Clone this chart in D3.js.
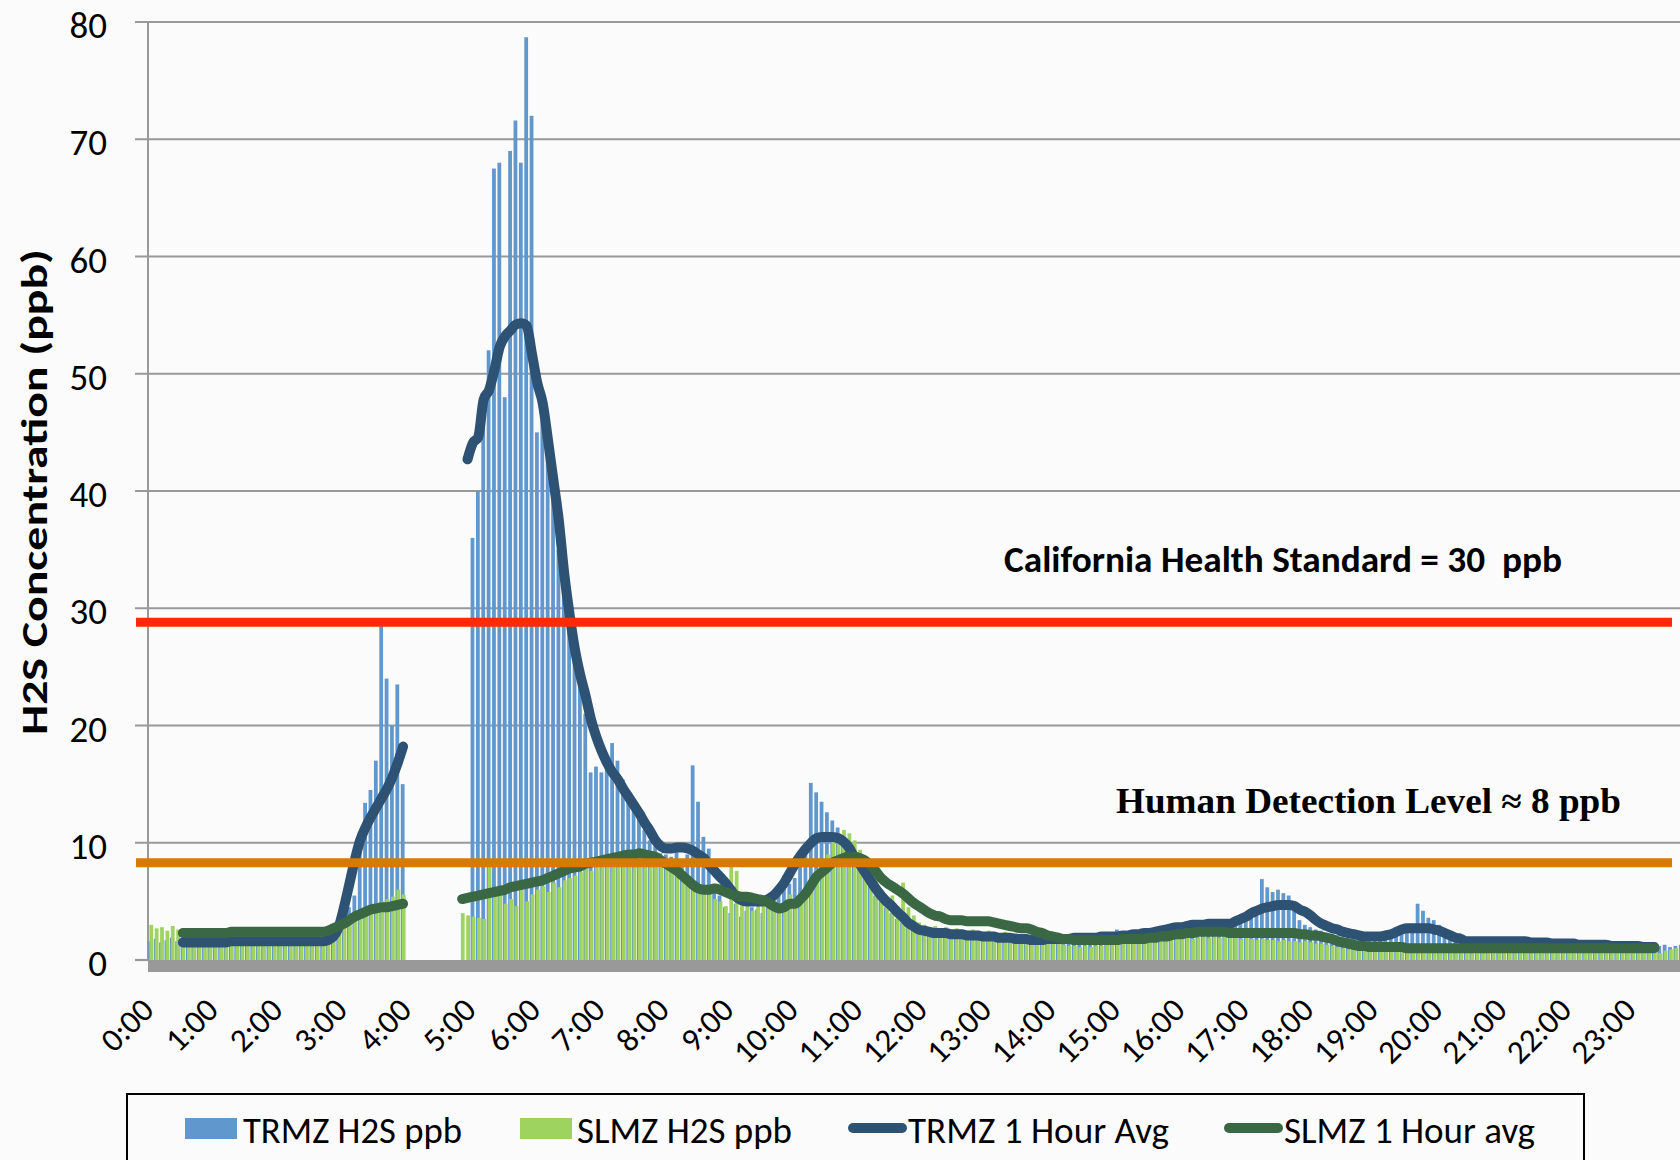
<!DOCTYPE html>
<html>
<head>
<meta charset="utf-8">
<script src="https://cdn.jsdelivr.net/npm/d3@7/dist/d3.min.js"></script>
<style>
  html, body { margin: 0; padding: 0; background: #fbfbfb; }
  svg { display: block; font-family: Carlito, Lato, sans-serif; }
</style>
</head>
<body>
<svg width="1680" height="1160"></svg>
<script>
// hour labels shown on the category axis (one every 12 five-minute readings)
const hourLabels = ['0:00','1:00','2:00','3:00','4:00','5:00','6:00','7:00','8:00','9:00','10:00','11:00',
  '12:00','13:00','14:00','15:00','16:00','17:00','18:00','19:00','20:00','21:00','22:00','23:00']
const yTicks = [0, 10, 20, 30, 40, 50, 60, 70, 80]

// 5-minute readings, one row per hour
const trmzBars = [
  1.6,1.8,1.5,1.7,1.9,1.6,1.5,1.7,1.6,1.8,1.5,1.6,
  1.7,1.5,1.6,1.8,1.6,1.5,1.7,1.6,1.9,1.6,1.5,1.7,
  1.6,1.8,1.6,1.5,1.7,1.6,1.8,1.7,1.9,2.0,2.3,2.5,
  2.8,4.5,5.5,9.5,13.4,14.5,17.0,28.5,24.0,20.0,23.5,15.0,
  null,null,null,null,null,null,null,null,null,null,null,null,
  36,40,48,52,67.5,68,48,69,71.6,68,78.7,72,
  45,47,46,42,35,32.4,28.4,27.6,23.9,21,16,16.5,
  16,17.3,18.5,17,15.4,14.2,13.1,12.2,11.1,10.2,9.7,9.1,
  9.0,8.8,9.2,8.6,9.0,16.6,13.5,10.5,9.5,6.5,5.5,4.5,
  4.0,4.8,3.7,4.2,4.5,4.3,4.0,4.5,5.5,6.0,7.2,6.5,
  7.0,8.0,9.4,15.1,14.3,13.5,12.6,11.9,11.3,10.5,9.8,9.0,
  8.5,7.8,6.5,5.5,5.0,4.5,4.0,3.5,3.2,2.8,2.6,2.4,
  2.3,2.2,2.0,2.1,1.9,2.0,1.8,1.9,1.8,1.7,1.8,1.7,
  1.7,1.6,1.8,1.7,1.6,1.7,1.6,1.8,1.7,1.6,1.7,1.7,
  2.4,1.8,1.7,1.6,1.5,1.6,1.5,1.6,1.7,1.5,1.6,1.8,
  2.6,1.8,1.9,2.0,2.0,2.1,2.2,2.3,2.4,2.5,2.6,2.7,
  2.8,2.9,3.0,3.1,3.4,3.0,3.2,3.1,3.3,3.0,3.2,3.3,
  3.5,3.8,4.2,6.9,6.2,5.8,6.0,5.7,5.5,4.5,3.4,3.0,
  2.8,2.6,2.5,2.3,2.2,2.1,2.0,2.7,2.0,1.9,1.8,1.8,
  1.7,1.8,1.8,1.9,2.0,2.2,2.6,3.0,4.8,4.2,3.6,3.4,
  3.0,2.4,1.8,1.5,1.4,1.3,1.3,1.2,1.3,1.2,1.3,1.2,
  1.2,1.3,1.2,1.1,1.2,1.1,1.2,1.1,1.1,1.2,1.1,1.0,
  1.1,1.0,1.1,1.0,1.0,1.1,1.0,1.0,1.1,1.0,1.0,1.0,
  1.0,1.0,1.1,1.0,1.0,1.2,1.3,1.1,1.2,1.3,1.2,1.1
]

const slmzBars = [
  3.0,2.7,2.8,2.5,2.9,2.6,2.4,2.7,2.5,2.3,2.6,2.4,
  2.5,2.3,2.4,2.6,2.3,2.4,2.2,2.5,2.8,2.4,2.3,2.5,
  2.4,2.3,2.5,2.2,2.4,2.3,2.5,2.4,2.3,2.6,2.8,2.7,
  3.0,3.4,3.8,4.2,4.4,4.6,4.8,5.0,5.2,5.4,6.0,5.6,
  null,null,null,null,null,null,null,null,null,null,4.0,3.8,
  3.7,3.6,3.5,8.2,5.5,6.0,4.8,5.2,4.6,6.2,5.0,5.6,
  6.0,6.3,5.8,6.6,6.2,6.8,7.0,7.2,7.5,7.8,7.6,8.0,
  8.2,8.4,8.6,8.3,8.5,8.7,8.4,8.8,8.6,8.8,8.5,8.3,
  8.6,8.0,7.5,7.0,6.5,6.2,6.4,6.0,5.6,5.2,5.0,4.6,
  8.0,7.6,5.5,4.6,4.2,5.0,4.6,4.4,5.2,4.5,4.3,5.6,
  5.0,5.5,6.2,7.0,7.7,7.4,9.0,10.5,10.2,11.1,10.8,10.2,
  9.4,8.8,7.7,7.0,6.0,5.2,5.5,4.6,6.6,4.5,3.8,3.2,
  3.0,2.8,2.9,2.7,2.8,2.6,2.7,2.6,2.5,2.6,2.5,2.4,
  2.5,2.4,2.3,2.4,2.2,2.3,2.1,2.2,2.0,1.9,1.8,1.7,
  1.6,1.4,1.3,1.2,1.2,1.1,1.2,1.1,1.2,1.2,1.3,1.3,
  1.4,1.4,1.5,1.5,1.6,1.6,1.7,1.6,1.7,1.8,1.7,1.8,
  1.8,1.9,1.8,1.9,2.0,1.9,2.0,1.9,2.0,1.9,2.0,1.8,
  1.9,1.8,1.7,1.8,1.7,1.7,1.6,1.7,1.6,1.6,1.5,1.6,
  1.5,1.4,1.4,1.3,1.2,1.1,1.0,0.9,0.9,0.9,0.8,0.8,
  0.8,0.8,0.8,0.7,0.8,0.7,0.7,0.8,0.7,0.7,0.7,0.7,
  0.7,0.6,0.7,0.7,0.6,0.7,0.6,0.7,0.6,0.6,0.7,0.6,
  0.6,0.7,0.6,0.6,0.7,0.6,0.6,0.6,0.7,0.6,0.6,0.6,
  0.6,0.6,0.7,0.6,0.6,0.6,0.7,0.6,0.6,0.6,0.6,0.7,
  0.6,0.6,0.6,0.7,0.6,0.6,0.8,0.9,1.0,0.9,1.0,0.9
]

const trmzAvg = [
  null,null,null,null,null,null,1.5,1.5,1.5,1.5,1.5,1.5,
  1.5,1.5,1.5,1.6,1.6,1.6,1.6,1.6,1.6,1.6,1.6,1.6,
  1.6,1.6,1.6,1.6,1.6,1.6,1.6,1.6,1.6,1.7,2.0,2.8,
  4.5,6.5,8.5,10.2,11.3,12.2,13.0,13.8,14.6,15.6,16.8,18.2,
  null,null,null,null,null,null,null,null,null,null,null,42.7,
  44.1,44.6,47.8,48.6,50.3,52.3,53.2,53.7,54.2,54.3,54.1,51.7,
  49.2,47.5,44.3,40.9,37.5,33.0,29.5,26.5,24.3,22.5,20.5,19.0,
  17.8,16.8,16.0,15.4,14.6,13.9,13.2,12.5,11.7,11.0,10.2,9.7,
  9.5,9.5,9.6,9.6,9.5,9.3,9.0,8.7,8.1,7.6,7.1,6.6,
  6.0,5.4,5.1,5.0,5.0,5.0,5.0,5.2,5.5,6.0,6.6,7.4,
  8.2,8.9,9.5,10.0,10.4,10.5,10.5,10.5,10.4,10.1,9.6,8.8,
  8.2,7.5,6.8,6.1,5.5,5.0,4.6,4.1,3.7,3.2,2.9,2.6,
  2.5,2.4,2.3,2.3,2.3,2.2,2.2,2.2,2.1,2.1,2.1,2.0,
  2.0,2.0,1.9,1.9,1.9,1.8,1.8,1.8,1.7,1.7,1.7,1.8,
  1.8,1.8,1.8,1.8,1.9,1.9,1.9,1.9,1.9,2.0,2.0,2.0,
  2.0,2.1,2.1,2.2,2.2,2.3,2.3,2.4,2.5,2.6,2.7,2.8,
  2.8,2.9,3.0,3.0,3.0,3.1,3.1,3.1,3.1,3.1,3.3,3.5,
  3.7,4.0,4.2,4.4,4.5,4.6,4.7,4.7,4.7,4.6,4.3,4.1,
  3.8,3.4,3.1,2.9,2.7,2.6,2.4,2.3,2.2,2.1,2.0,2.0,
  2.0,2.0,2.1,2.2,2.4,2.6,2.7,2.7,2.7,2.7,2.7,2.6,
  2.5,2.3,2.1,1.9,1.8,1.6,1.6,1.6,1.6,1.6,1.6,1.6,
  1.6,1.6,1.6,1.6,1.6,1.5,1.5,1.5,1.5,1.4,1.4,1.4,
  1.4,1.4,1.3,1.3,1.3,1.3,1.3,1.3,1.2,1.2,1.2,1.2,
  1.2,1.2,1.1,1.1,1.1,null,null,null,null,null,null,null
]

const slmzAvg = [
  null,null,null,null,null,null,2.3,2.3,2.3,2.3,2.3,2.3,
  2.3,2.3,2.3,2.4,2.4,2.4,2.4,2.4,2.4,2.4,2.4,2.4,
  2.4,2.4,2.4,2.4,2.4,2.4,2.4,2.4,2.4,2.5,2.7,2.9,
  3.1,3.4,3.7,3.9,4.1,4.3,4.4,4.5,4.5,4.6,4.7,4.8,
  null,null,null,null,null,null,null,null,null,null,5.2,5.3,
  5.4,5.5,5.6,5.7,5.8,5.9,6.0,6.2,6.3,6.4,6.5,6.6,
  6.7,6.8,7.0,7.2,7.4,7.6,7.8,7.9,8.0,8.2,8.3,8.4,
  8.5,8.6,8.7,8.8,8.9,9.0,9.0,9.1,9.0,8.9,8.8,8.5,
  8.2,7.9,7.6,7.2,6.8,6.4,6.1,6.0,6.0,6.1,6.0,5.8,
  5.6,5.5,5.4,5.4,5.3,5.2,5.1,4.9,4.6,4.4,4.5,4.8,
  4.8,5.2,5.7,6.4,7.1,7.5,7.9,8.3,8.5,8.7,8.8,8.8,
  8.7,8.5,8.1,7.6,7.0,6.6,6.3,6.0,5.7,5.3,4.9,4.6,
  4.3,4.0,3.8,3.7,3.5,3.4,3.4,3.4,3.3,3.3,3.3,3.3,
  3.3,3.2,3.1,3.0,2.9,2.8,2.7,2.7,2.6,2.4,2.3,2.1,
  2.0,1.9,1.8,1.8,1.7,1.7,1.7,1.7,1.7,1.7,1.7,1.7,
  1.7,1.8,1.8,1.8,1.8,1.8,1.9,1.9,2.0,2.0,2.1,2.2,
  2.2,2.3,2.3,2.4,2.4,2.4,2.4,2.4,2.4,2.3,2.3,2.3,
  2.3,2.3,2.3,2.3,2.3,2.3,2.3,2.3,2.3,2.3,2.2,2.2,
  2.1,2.1,2.0,1.9,1.8,1.6,1.5,1.4,1.3,1.2,1.2,1.1,
  1.1,1.1,1.1,1.1,1.1,1.1,1.0,1.0,1.0,1.0,1.0,1.0,
  1.0,1.0,1.0,1.0,1.0,1.0,1.0,1.0,1.0,1.0,1.0,1.0,
  1.0,1.0,1.0,1.0,1.0,1.0,1.0,1.0,1.0,1.0,1.0,1.0,
  1.0,1.0,1.0,1.0,1.0,1.0,1.0,1.0,1.0,1.0,1.0,1.0,
  1.0,1.0,1.0,1.0,1.0,null,null,null,null,null,null,null
]

// reference levels drawn across the plot
const healthLevel = 28.8
const detectLevel = 8.3

const legendItems = [
  { label: 'TRMZ H2S ppb', kind: 'box', color: '#6097cc', x: 185, tx: 243, w: 219 },
  { label: 'SLMZ H2S ppb', kind: 'box', color: '#9fd35f', x: 520, tx: 577, w: 215 },
  { label: 'TRMZ 1 Hour Avg', kind: 'line', color: '#2e5273', x: 848, tx: 908, w: 261 },
  { label: 'SLMZ 1 Hour avg', kind: 'line', color: '#3a6845', x: 1224, tx: 1284, w: 251 }
]

const svg = d3.select('svg')
const dim = { left: 148, top: 22, base: 960, step: 5.37 }

const xScale = d3.scaleBand()
  .domain(d3.range(trmzBars.length))
  .range([dim.left, dim.left + dim.step * trmzBars.length])
const yScale = d3.scaleLinear().domain([0, 80]).range([dim.base, dim.top])
const bw = xScale.bandwidth()

drawGrid()
drawBars(trmzBars, '#6097cc', 0.4)
drawBars(slmzBars, '#9fd35f', 1.4)
drawAvg(trmzAvg, '#2e5273')
drawAvg(slmzAvg, '#3a6845')
drawLevels()
drawXLabels()
drawYAxis()
drawLegend()


function drawGrid () {
  svg.append('g')
    .selectAll('line')
    .data(yTicks)
    .join('line')
      .attr('x1', 135)
      .attr('x2', (d) => d === 0 ? dim.left : 1680)
      .attr('y1', (d) => yScale(d))
      .attr('y2', (d) => yScale(d))
      .attr('stroke', '#999')
      .attr('stroke-width', 2.2)

  svg.append('line') // value axis
    .attr('x1', dim.left).attr('x2', dim.left)
    .attr('y1', yScale(80)).attr('y2', yScale(0))
    .attr('stroke', '#999')
    .attr('stroke-width', 2)

  svg.append('rect') // grey floor under the columns
    .attr('x', dim.left)
    .attr('y', yScale(0))
    .attr('width', 1680 - dim.left)
    .attr('height', 12)
    .attr('fill', '#999')
}


function drawBars (values, color, offset) {
  svg.append('g')
    .selectAll('rect')
    .data(values.map((v, i) => ({ v, i })).filter((d) => d.v != null))
    .join('rect')
      .attr('x', (d) => xScale(d.i) + offset)
      .attr('y', (d) => yScale(d.v))
      .attr('width', bw - 1.6)
      .attr('height', (d) => yScale(0) - yScale(d.v))
      .attr('fill', color)
}


function drawAvg (values, color) {
  const line = d3.line()
    .defined((d) => d != null)
    .x((d, i) => xScale(i) + bw / 2)
    .y((d) => yScale(d))
    .curve(d3.curveMonotoneX)

  svg.append('path')
    .datum(values)
    .attr('d', line)
    .attr('fill', 'none')
    .attr('stroke', color)
    .attr('stroke-width', 10)
    .attr('stroke-linecap', 'round')
    .attr('stroke-linejoin', 'round')
}


function drawLevels () {
  svg.append('line')
    .attr('x1', 136).attr('x2', 1672)
    .attr('y1', yScale(healthLevel)).attr('y2', yScale(healthLevel))
    .attr('stroke', '#ff2a00')
    .attr('stroke-width', 9)

  svg.append('line')
    .attr('x1', 136).attr('x2', 1672)
    .attr('y1', yScale(detectLevel)).attr('y2', yScale(detectLevel))
    .attr('stroke', '#d97a00')
    .attr('stroke-width', 9)

  svg.append('text')
    .attr('x', 1004)
    .attr('y', yScale(healthLevel) - 50)
    .attr('font-size', 36)
    .attr('font-weight', 'bold')
    .attr('textLength', 558)
    .attr('lengthAdjust', 'spacingAndGlyphs')
    .style('white-space', 'pre')
    .text('California Health Standard = 30  ppb')

  svg.append('text')
    .attr('x', 1116)
    .attr('y', yScale(detectLevel) - 50)
    .attr('font-family', '"Liberation Serif", serif')
    .attr('font-size', 35)
    .attr('font-weight', 'bold')
    .attr('textLength', 505)
    .attr('lengthAdjust', 'spacingAndGlyphs')
    .text('Human Detection Level ≈ 8 ppb')
}


function drawXLabels () {
  svg.append('g')
    .selectAll('text')
    .data(hourLabels)
    .join('text')
      .attr('transform', (d, h) => `translate(${xScale(h * 12) + bw / 2 + 5}, 1012) rotate(-45)`)
      .attr('text-anchor', 'end')
      .attr('font-size', 33)
      .text((d) => d)
}


function drawYAxis () {
  svg.append('g')
    .selectAll('text')
    .data(yTicks)
    .join('text')
      .attr('x', 107)
      .attr('y', (d) => yScale(d) + 16)
      .attr('text-anchor', 'end')
      .attr('font-size', 37)
      .text((d) => d)

  svg.append('text')
    .attr('transform', 'translate(47, 492) rotate(-90)')
    .attr('text-anchor', 'middle')
    .attr('font-size', 36)
    .attr('font-weight', 'bold')
    .attr('textLength', 486)
    .attr('lengthAdjust', 'spacingAndGlyphs')
    .text('H2S Concentration (ppb)')
}


function drawLegend () {
  svg.append('rect')
    .attr('x', 127).attr('y', 1094)
    .attr('width', 1457).attr('height', 100)
    .attr('fill', 'none')
    .attr('stroke', '#000')
    .attr('stroke-width', 2)

  const g = svg.append('g')
  legendItems.forEach((d) => {
    if (d.kind === 'box') {
      g.append('rect')
        .attr('x', d.x).attr('y', 1118)
        .attr('width', 52).attr('height', 21)
        .attr('fill', d.color)
    } else {
      g.append('line')
        .attr('x1', d.x + 5).attr('x2', d.x + 54)
        .attr('y1', 1128).attr('y2', 1128)
        .attr('stroke', d.color)
        .attr('stroke-width', 10)
        .attr('stroke-linecap', 'round')
    }
    g.append('text')
      .attr('x', d.tx)
      .attr('y', 1143)
      .attr('font-size', 37)
      .attr('textLength', d.w)
      .attr('lengthAdjust', 'spacingAndGlyphs')
      .text(d.label)
  })
}
</script>
</body>
</html>
